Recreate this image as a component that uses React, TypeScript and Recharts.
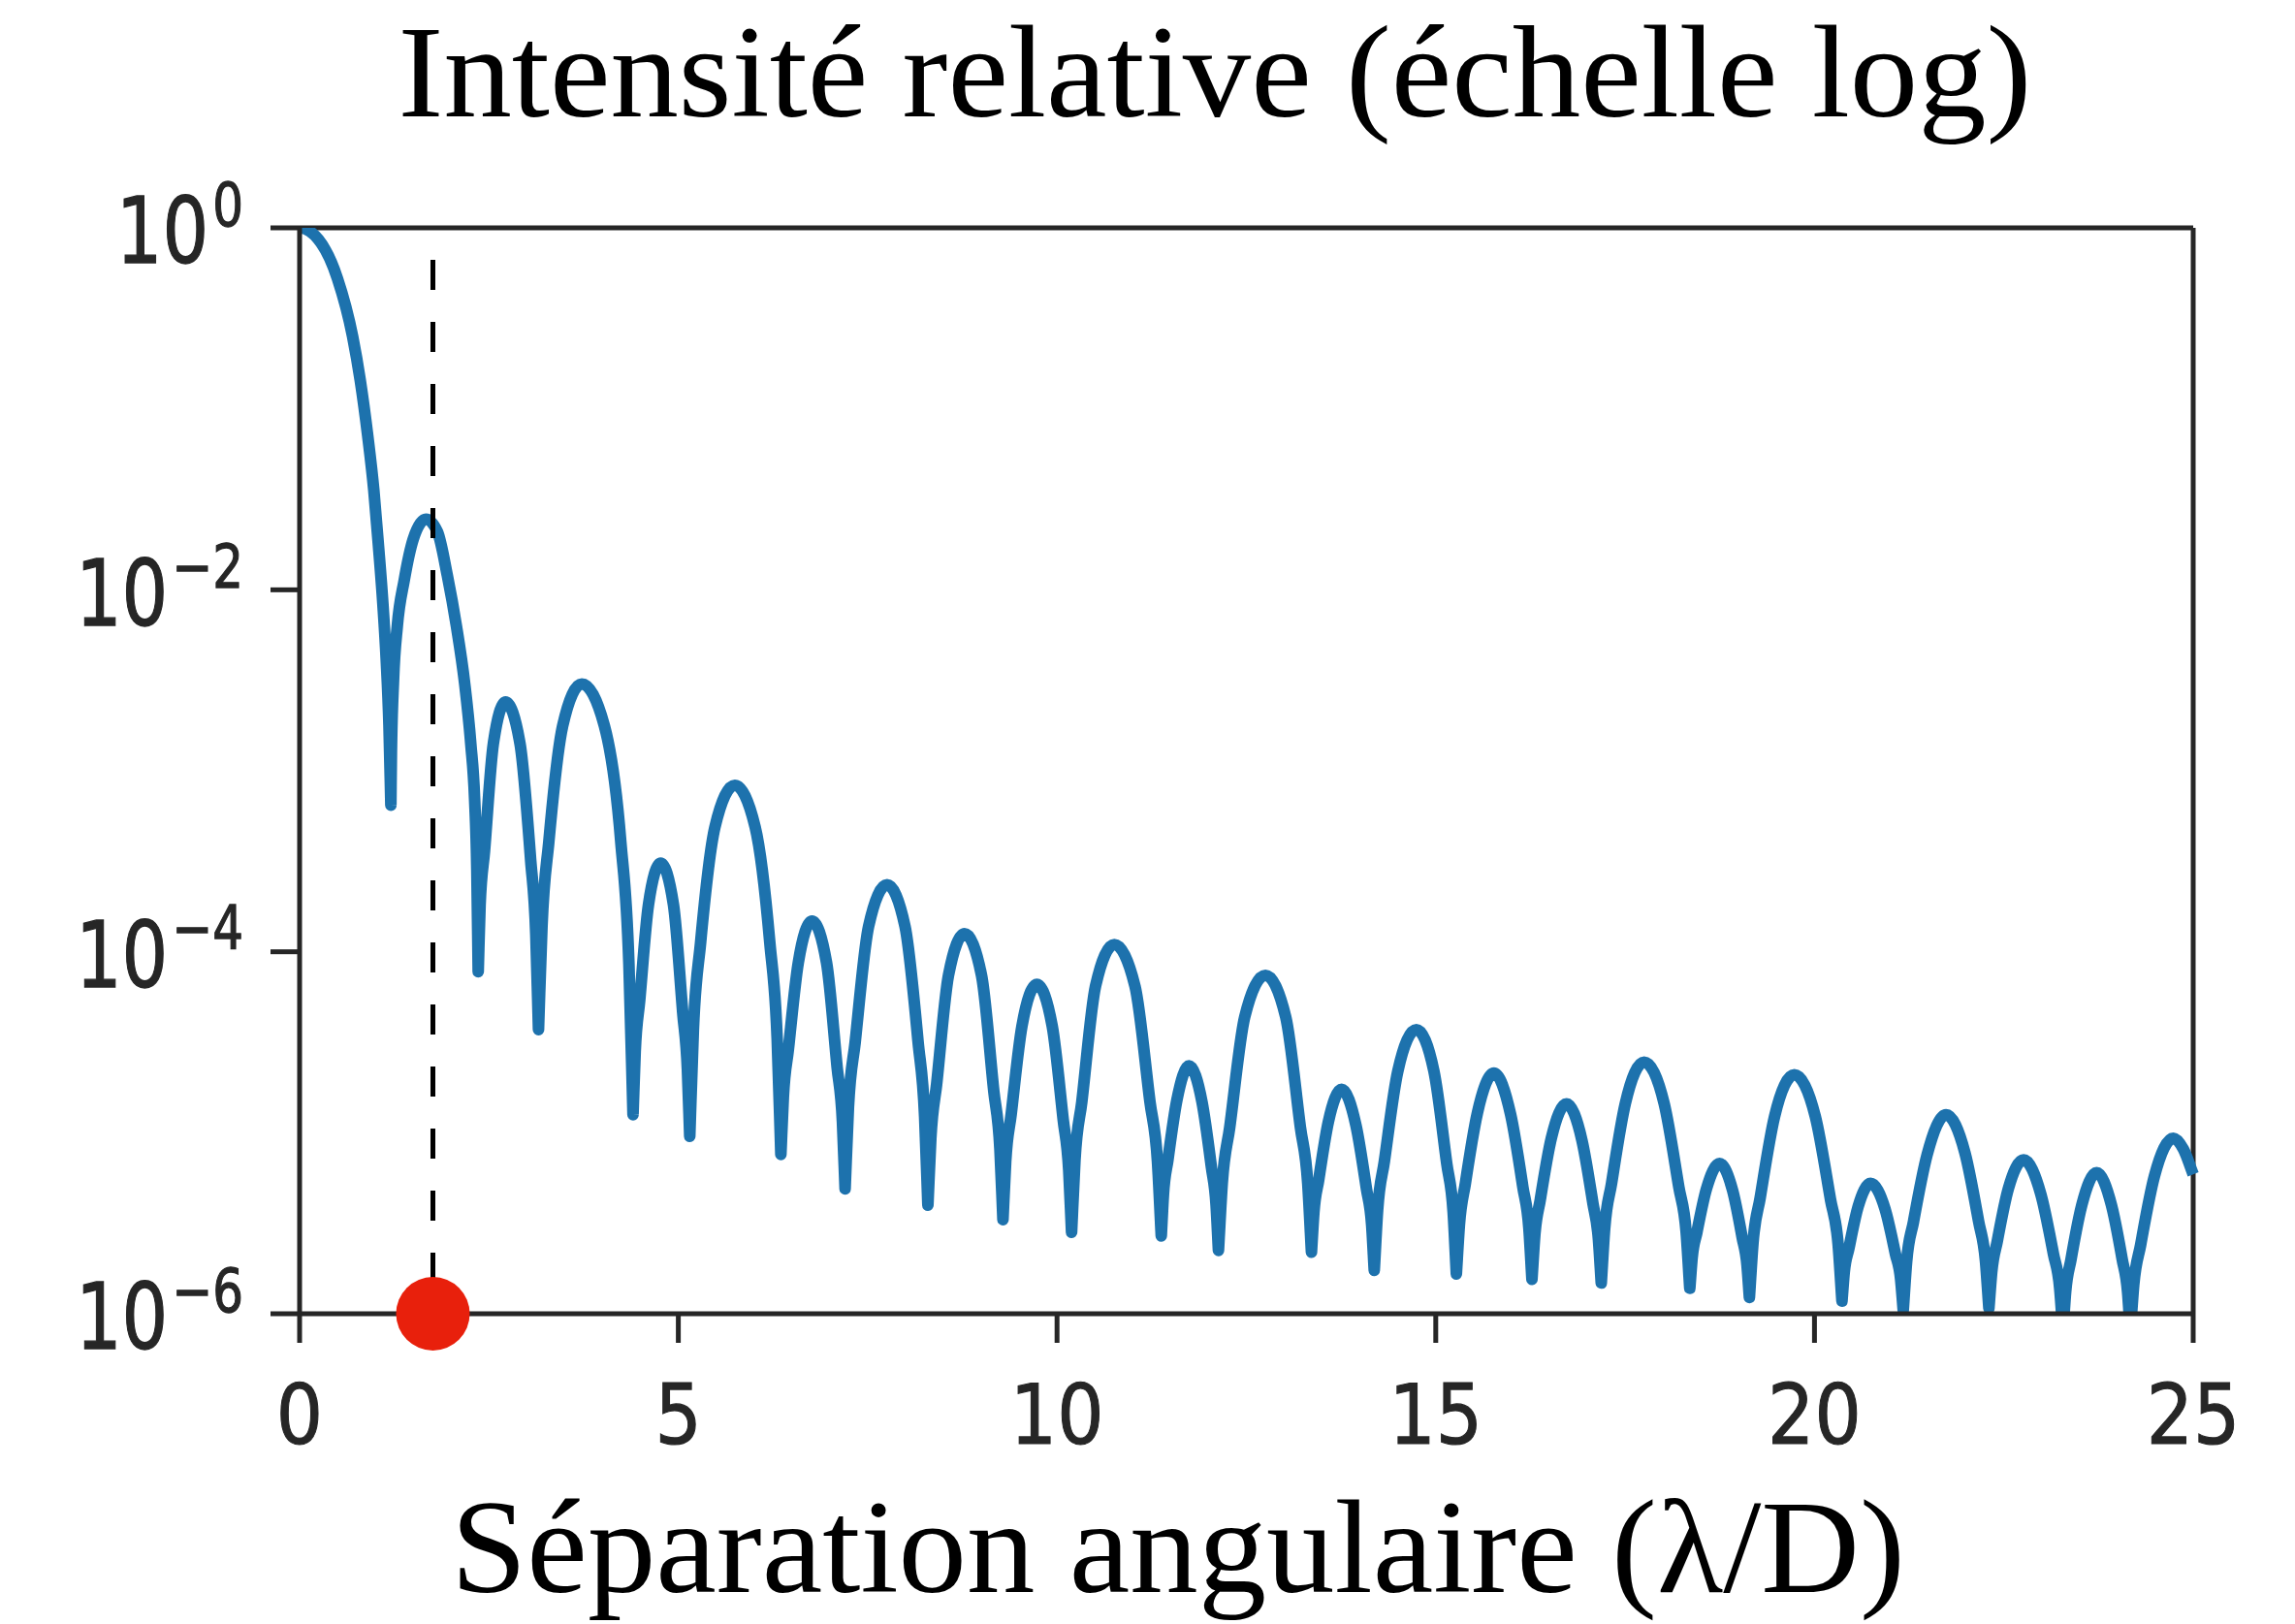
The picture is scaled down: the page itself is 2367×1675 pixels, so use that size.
import { LineChart, Line, XAxis, YAxis, ReferenceLine, ReferenceDot } from "recharts";

// Angular separation (λ/D) of each sampled point along the profile
const separation = [
  0, 0.25, 0.5, 0.7, 0.8, 0.9, 0.98, 1.04, 1.1, 1.143, 1.18, 1.205,
  1.212, 1.24, 1.29, 1.38, 1.5, 1.668, 1.82, 1.95, 2.07, 2.18, 2.26, 2.31, 2.34, 2.358,
  2.383, 2.442, 2.558, 2.719, 2.91, 3.05, 3.119, 3.154,
  3.2, 3.291, 3.474, 3.725, 4.023, 4.24, 4.348, 4.402,
  4.431, 4.49, 4.606, 4.767, 4.936, 5.059, 5.12, 5.151,
  5.199, 5.294, 5.484, 5.746, 6.014, 6.208, 6.305, 6.354,
  6.387, 6.453, 6.584, 6.765, 6.957, 7.097, 7.167, 7.202,
  7.246, 7.335, 7.512, 7.756, 7.993, 8.166, 8.252, 8.295,
  8.334, 8.411, 8.567, 8.78, 9.003, 9.165, 9.246, 9.286,
  9.322, 9.394, 9.537, 9.734, 9.936, 10.082, 10.155, 10.192,
  10.237, 10.327, 10.508, 10.756, 11.029, 11.227, 11.326, 11.376,
  11.405, 11.464, 11.582, 11.743, 11.914, 12.038, 12.1, 12.131,
  12.181, 12.28, 12.478, 12.751, 13.019, 13.213, 13.31, 13.359,
  13.391, 13.455, 13.582, 13.758, 13.947, 14.085, 14.154, 14.188,
  14.232, 14.321, 14.499, 14.744, 14.976, 15.145, 15.23, 15.272,
  15.312, 15.391, 15.55, 15.768, 15.989, 16.15, 16.23, 16.27,
  16.307, 16.38, 16.526, 16.727, 16.929, 17.075, 17.148, 17.185,
  17.23, 17.321, 17.502, 17.751, 18.016, 18.209, 18.306, 18.354,
  18.385, 18.448, 18.574, 18.747, 18.92, 19.046, 19.109, 19.141,
  19.188, 19.283, 19.473, 19.734, 20.011, 20.212, 20.313, 20.363,
  20.393, 20.454, 20.575, 20.741, 20.931, 21.069, 21.138, 21.172,
  21.217, 21.308, 21.488, 21.737, 21.986, 22.167, 22.258, 22.303,
  22.34, 22.413, 22.559, 22.761, 22.989, 23.155, 23.238, 23.28,
  23.316, 23.387, 23.529, 23.725, 23.921, 24.063, 24.134, 24.17,
  24.215, 24.306, 24.488, 24.738, 24.87, 25,
];

// log10 of the relative intensity at each separation
const logIntensity = [
  0, -0.065, -0.28, -0.6, -0.84, -1.15, -1.45, -1.75, -2.08, -2.38, -2.75, -3.19,
  -2.9, -2.5, -2.2, -1.95, -1.72, -1.61, -1.68, -1.92, -2.2, -2.52, -2.85, -3.15, -3.55, -4.11,
  -3.74, -3.44, -2.85, -2.62, -2.85, -3.49, -3.91, -4.43,
  -3.86, -3.39, -2.75, -2.52, -2.75, -3.39, -4.07, -4.9,
  -4.55, -4.27, -3.74, -3.51, -3.74, -4.34, -4.65, -5.02,
  -4.43, -3.95, -3.31, -3.08, -3.31, -3.95, -4.48, -5.12,
  -4.8, -4.54, -4.06, -3.83, -4.06, -4.64, -4.94, -5.31,
  -4.86, -4.5, -3.86, -3.63, -3.86, -4.5, -4.91, -5.4,
  -5.03, -4.73, -4.13, -3.9, -4.13, -4.77, -5.09, -5.48,
  -5.16, -4.9, -4.41, -4.18, -4.41, -4.93, -5.21, -5.55,
  -5.15, -4.83, -4.19, -3.96, -4.19, -4.83, -5.16, -5.57,
  -5.34, -5.15, -4.82, -4.63, -4.83, -5.19, -5.4, -5.65,
  -5.28, -4.97, -4.36, -4.13, -4.36, -4.97, -5.28, -5.66,
  -5.44, -5.26, -4.94, -4.76, -4.96, -5.31, -5.51, -5.76,
  -5.43, -5.16, -4.66, -4.43, -4.66, -5.17, -5.44, -5.78,
  -5.51, -5.28, -4.89, -4.67, -4.9, -5.3, -5.53, -5.81,
  -5.57, -5.37, -5.03, -4.84, -5.04, -5.39, -5.59, -5.83,
  -5.53, -5.28, -4.84, -4.61, -4.84, -5.3, -5.55, -5.86,
  -5.69, -5.55, -5.31, -5.17, -5.32, -5.58, -5.73, -5.91,
  -5.61, -5.36, -4.91, -4.68, -4.91, -5.37, -5.62, -5.93,
  -5.77, -5.64, -5.41, -5.28, -5.42, -5.67, -5.81, -5.98,
  -5.71, -5.49, -5.12, -4.9, -5.11, -5.49, -5.71, -5.97,
  -5.77, -5.6, -5.31, -5.15, -5.34, -5.67, -5.86, -6.1,
  -5.88, -5.7, -5.4, -5.22, -5.4, -5.7, -5.88, -6.1,
  -5.84, -5.62, -5.24, -5.03, -5.09, -5.23,
];

const xTicks = [0, 5, 10, 15, 20, 25];
const yTicks = [1, 1e-2, 1e-4, 1e-6];
const markerSeparation = 1.76;

const chartTitle = "Intensité relative (échelle log)";
const xTitle = "Séparation angulaire (λ/D)";

const profile = separation.map((sep, i) => ({
  sep,
  intensity: Math.pow(10, logIntensity[i]),
}));

const W = 2367;
const H = 1675;
const AXIS = "#262626";
const TICK_FONT = "'DejaVu Sans', sans-serif";
const TITLE_FONT = "'Liberation Serif', 'Times New Roman', serif";

// Smooth cubic through the points (monotone tangents), but troughs keep a
// sharp corner so the nulls of the pattern stay pointed.
function cuspCurve(context: any) {
  let xs: number[] = [];
  let ys: number[] = [];
  return {
    areaStart() {},
    areaEnd() {},
    lineStart() {
      xs = [];
      ys = [];
    },
    point(x: number, y: number) {
      xs.push(+x);
      ys.push(+y);
    },
    lineEnd() {
      const n = xs.length;
      if (!n) return;
      context.moveTo(xs[0], ys[0]);
      if (n === 1) return;
      const s: number[] = [];
      for (let i = 0; i < n - 1; i++) {
        s.push((ys[i + 1] - ys[i]) / (xs[i + 1] - xs[i] || 1e-9));
      }
      const tOut = new Array(n).fill(0);
      const tIn = new Array(n).fill(0);
      tIn[n - 1] = s[n - 2];
      for (let i = 1; i < n - 1; i++) {
        const a = s[i - 1];
        const b = s[i];
        if (ys[i] > ys[i - 1] && ys[i] > ys[i + 1]) {
          tIn[i] = a;
          tOut[i] = b;
        } else if (a * b <= 0) {
          tIn[i] = tOut[i] = 0;
        } else {
          const h0 = xs[i] - xs[i - 1];
          const h1 = xs[i + 1] - xs[i];
          const p = (a * h1 + b * h0) / (h0 + h1);
          const m = (Math.sign(a) + Math.sign(b)) * Math.min(Math.abs(a), Math.abs(b), 0.5 * Math.abs(p));
          tIn[i] = tOut[i] = m;
        }
      }
      for (let i = 0; i < n - 1; i++) {
        const h = (xs[i + 1] - xs[i]) / 3;
        context.bezierCurveTo(
          xs[i] + h,
          ys[i] + tOut[i] * h,
          xs[i + 1] - h,
          ys[i + 1] - tIn[i + 1] * h,
          xs[i + 1],
          ys[i + 1]
        );
      }
    },
  };
}

function XTick(props: any) {
  const { x, y, payload } = props;
  return (
    <g transform={`translate(${x},${y}) scale(1,1.12)`}>
      <text
        textAnchor="middle"
        y={84}
        fontFamily={TICK_FONT}
        fontSize={76}
        fill={AXIS}
        stroke={AXIS}
        strokeWidth={1}
      >
        {payload.value}
      </text>
    </g>
  );
}

function YTick(props: any) {
  const { x, y, payload } = props;
  const exp = Math.round(Math.log10(payload.value));
  const sup = exp < 0 ? `\u2212${-exp}` : `${exp}`;
  return (
    <g transform={`translate(${x},${y}) scale(1,1.25)`}>
      <text
        textAnchor="end"
        y={29}
        fontFamily={TICK_FONT}
        fontSize={75}
        fill={AXIS}
        stroke={AXIS}
        strokeWidth={1}
      >
        10
        <tspan dx={4} dy={-31} fontSize={50}>
          {sup}
        </tspan>
      </text>
    </g>
  );
}

export default function App() {
  return (
    <div style={{ position: "absolute", left: 0, top: 0, width: W, height: H, background: "#fff" }}>
      <LineChart
        width={W}
        height={H}
        data={profile}
        margin={{ top: 235, right: 105, bottom: 170, left: 109 }}
      >
        <XAxis
          dataKey="sep"
          type="number"
          domain={[0, 25]}
          ticks={xTicks}
          height={150}
          tick={<XTick />}
          tickSize={30}
          tickMargin={10}
          axisLine={{ stroke: AXIS, strokeWidth: 5 }}
          tickLine={{ stroke: AXIS, strokeWidth: 5 }}
        />
        <YAxis
          scale="log"
          domain={[1e-6, 1]}
          allowDataOverflow
          ticks={yTicks}
          width={200}
          tick={<YTick />}
          tickSize={30}
          tickMargin={28}
          axisLine={{ stroke: AXIS, strokeWidth: 5 }}
          tickLine={{ stroke: AXIS, strokeWidth: 5 }}
        />
        <ReferenceLine y={1} stroke={AXIS} strokeWidth={5} />
        <ReferenceLine x={25} stroke={AXIS} strokeWidth={5} />
        <Line
          type={cuspCurve as any}
          dataKey="intensity"
          stroke="#1d72ad"
          strokeWidth={12}
          strokeLinejoin="round"
          dot={false}
          isAnimationActive={false}
        />
        <ReferenceLine
          x={markerSeparation}
          stroke="#000"
          strokeWidth={5}
          strokeDasharray="31 33"
          strokeDashoffset={32}
        />
        <ReferenceDot
          x={markerSeparation}
          y={1e-6}
          r={38}
          fill="#e8200c"
          stroke="none"
          ifOverflow="visible"
        />
      </LineChart>
      <svg
        width={W}
        height={H}
        style={{ position: "absolute", left: 0, top: 0, pointerEvents: "none" }}
      >
        <text
          x={1253}
          y={120}
          textAnchor="middle"
          fontFamily={TITLE_FONT}
          fontSize={136}
          textLength={1685}
          lengthAdjust="spacingAndGlyphs"
          fill="#000"
        >
          {chartTitle}
        </text>
        <text
          x={1215}
          y={1642}
          textAnchor="middle"
          fontFamily={TITLE_FONT}
          fontSize={138}
          textLength={1500}
          lengthAdjust="spacingAndGlyphs"
          fill="#000"
        >
          {xTitle}
        </text>
      </svg>
    </div>
  );
}
